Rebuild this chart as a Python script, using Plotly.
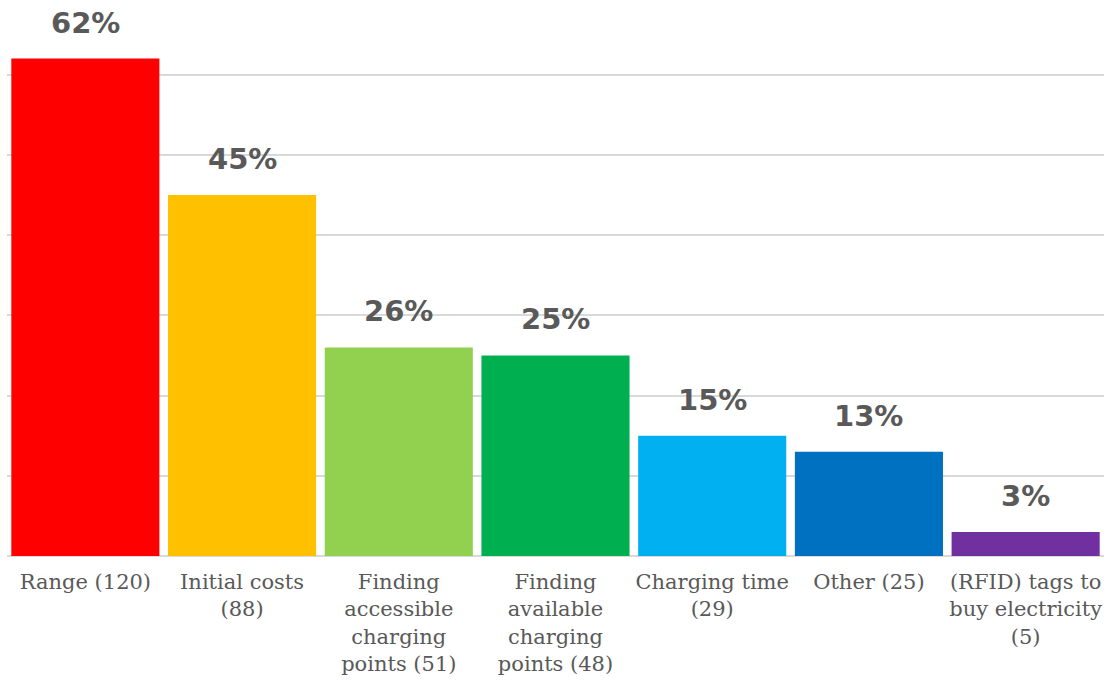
import plotly.graph_objects as go

categories = [
    "Range (120)",
    "Initial costs<br>(88)",
    "Finding<br>accessible<br>charging<br>points (51)",
    "Finding<br>available<br>charging<br>points (48)",
    "Charging time<br>(29)",
    "Other (25)",
    "(RFID) tags to<br>buy electricity<br>(5)",
]
values = [0.62, 0.45, 0.26, 0.25, 0.15, 0.13, 0.03]
colors = ["#FF0000", "#FFC000", "#92D050", "#00B050", "#00B0F0", "#0070C0", "#7030A0"]

fig = go.Figure()
fig.add_trace(go.Bar(
    x=categories, y=values, marker=dict(color=colors, line=dict(width=0)),
    hoverinfo="skip",
))
for c, v in zip(categories, values):
    fig.add_annotation(
        x=c, y=v, text=f"{round(v*100)}%", showarrow=False,
        yanchor="middle", yshift=36,
        font=dict(family="DejaVu Sans", size=29, color="#595959", weight="bold"),
    )

fig.update_layout(
    width=1107, height=682,
    margin=dict(l=7, r=3, t=0, b=126),
    plot_bgcolor="white", paper_bgcolor="white",
    bargap=0.055,
    showlegend=False,
    xaxis=dict(
        showgrid=False, showline=False, ticks="",
        tickfont=dict(family="DejaVu Serif", size=21, color="#595959"),
        ticklabelstandoff=11,
    ),
    yaxis=dict(
        range=[0, 0.693], dtick=0.1, showticklabels=False,
        showgrid=True, gridcolor="#D9D9D9", gridwidth=2,
        zeroline=True, zerolinecolor="#D9D9D9", zerolinewidth=2,
    ),
)
fig.write_html("out.html")
